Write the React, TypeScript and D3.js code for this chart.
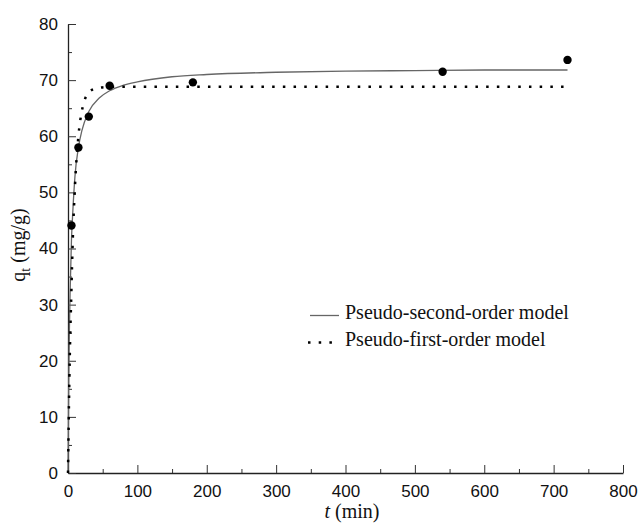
import { useEffect, useRef } from "react";
import * as d3 from "d3";

// experimental points
const expTime = [5, 15, 30, 60, 180, 540, 720];
const expQ = [44.1, 58, 63.5, 69, 69.6, 71.5, 73.6];

// pseudo-second-order curve
const pso2Time = [0, 1, 2, 3, 5, 7, 10, 15, 20, 30, 45, 60, 80, 100, 150, 200, 300, 400, 500, 600, 720];
const pso2Q = [0, 15.5, 25.4, 32, 41.5, 46.7, 52.8, 58, 61, 64.4, 66.8, 68.1, 69.1, 69.7, 70.6, 71.0, 71.4, 71.6, 71.7, 71.8, 71.8];

// pseudo-first-order curve
const pso1Time = [0, 2, 5, 7, 10, 15, 20, 30, 40, 60, 100, 720];
const pso1Q = [0, 17, 33, 42, 51, 60, 64.5, 67.8, 68.5, 68.8, 68.8, 68.8];

const xTicks = [0, 100, 200, 300, 400, 500, 600, 700, 800];
const yTicks = [0, 10, 20, 30, 40, 50, 60, 70, 80];

const legendItems = ["Pseudo-second-order model", "Pseudo-first-order model"];

const W = 639;
const H = 524;

export default function App() {
  const svgRef = useRef<SVGSVGElement>(null);

  useEffect(() => {
    const svg = d3.select(svgRef.current);
    svg.selectAll("*").remove();

    const margin = { top: 24, right: 16, bottom: 51, left: 68 };
    const width = 623 - margin.left;
    const height = 473 - margin.top;

    const x = d3.scaleLinear().domain([0, 800]).range([0, width]);
    const y = d3.scaleLinear().domain([0, 80]).range([height, 0]);

    const g = svg.append("g").attr("transform", `translate(${margin.left},${margin.top})`);

    // minor ticks
    g.append("g")
      .attr("transform", `translate(0,${height})`)
      .call(d3.axisBottom(x).tickValues(d3.range(50, 800, 100)).tickSize(-4).tickFormat(() => ""))
      .call(s => s.select(".domain").remove())
      .call(s => s.selectAll("line").attr("stroke", "#333"));
    g.append("g")
      .call(d3.axisLeft(y).tickValues(d3.range(5, 80, 10)).tickSize(-4).tickFormat(() => ""))
      .call(s => s.select(".domain").remove())
      .call(s => s.selectAll("line").attr("stroke", "#333"));

    const xAxis = g.append("g")
      .attr("transform", `translate(0,${height})`)
      .call(d3.axisBottom(x).tickValues(xTicks).tickSize(-8).tickSizeOuter(0).tickPadding(12));
    const yAxis = g.append("g")
      .call(d3.axisLeft(y).tickValues(yTicks).tickSize(-8).tickSizeOuter(0).tickPadding(10));

    [xAxis, yAxis].forEach(a => {
      a.select(".domain").attr("stroke", "#222").attr("stroke-width", 1.3);
      a.selectAll("line").attr("stroke", "#333");
      a.selectAll("text")
        .attr("fill", "#111")
        .style("font-family", "'Liberation Sans', Arial, sans-serif")
        .style("font-size", "17px");
    });

    const line = d3.line<[number, number]>()
      .x(d => x(d[0]))
      .y(d => y(d[1]))
      .curve(d3.curveMonotoneX);

    g.append("path")
      .datum(pso2Time.map((t, i) => [t, pso2Q[i]] as [number, number]))
      .attr("fill", "none")
      .attr("stroke", "#666")
      .attr("stroke-width", 1.3)
      .attr("d", line);

    g.append("path")
      .datum(pso1Time.map((t, i) => [t, pso1Q[i]] as [number, number]))
      .attr("fill", "none")
      .attr("stroke", "#000")
      .attr("stroke-width", 2.5)
      .attr("stroke-dasharray", "2.5 8.2")
      .attr("d", line);

    g.selectAll(".pt")
      .data(expTime.map((t, i) => [t, expQ[i]]))
      .join("circle")
      .attr("class", "pt")
      .attr("cx", d => x(d[0]))
      .attr("cy", d => y(d[1]))
      .attr("r", 4.2)
      .attr("fill", "#000");

    // legend
    const legend = svg.append("g")
      .style("font-family", "'Liberation Serif', 'Times New Roman', serif")
      .style("font-size", "20px");
    legendItems.forEach((label, i) => {
      const ly = 315.5 + i * 27;
      legend.append("line")
        .attr("x1", i === 0 ? 310 : 308)
        .attr("x2", i === 0 ? 339 : 332)
        .attr("y1", ly)
        .attr("y2", ly)
        .attr("stroke", i === 0 ? "#666" : "#000")
        .attr("stroke-width", i === 0 ? 1.3 : 2.5)
        .attr("stroke-dasharray", i === 0 ? null : "2.5 8.2");
      legend.append("text")
        .attr("x", 345)
        .attr("y", ly + 3)
        .attr("fill", "#111")
        .text(label);
    });

    // axis titles
    const xt = svg.append("text")
      .attr("x", 352)
      .attr("y", 518)
      .attr("text-anchor", "middle")
      .attr("fill", "#111")
      .style("font-family", "'Liberation Serif', 'Times New Roman', serif")
      .style("font-size", "20px");
    xt.append("tspan").style("font-style", "italic").text("t");
    xt.append("tspan").text(" (min)");

    const yt = svg.append("text")
      .attr("transform", "translate(25,245) rotate(-90)")
      .attr("text-anchor", "middle")
      .attr("fill", "#111")
      .style("font-family", "'Liberation Serif', 'Times New Roman', serif")
      .style("font-size", "20px");
    yt.append("tspan").text("q");
    yt.append("tspan").attr("dy", 5).style("font-size", "14px").text("t");
    yt.append("tspan").attr("dy", -5).text(" (mg/g)");
  }, []);

  return (
    <svg
      ref={svgRef}
      width={W}
      height={H}
      style={{ position: "absolute", left: 0, top: 0, background: "#fff" }}
    />
  );
}
